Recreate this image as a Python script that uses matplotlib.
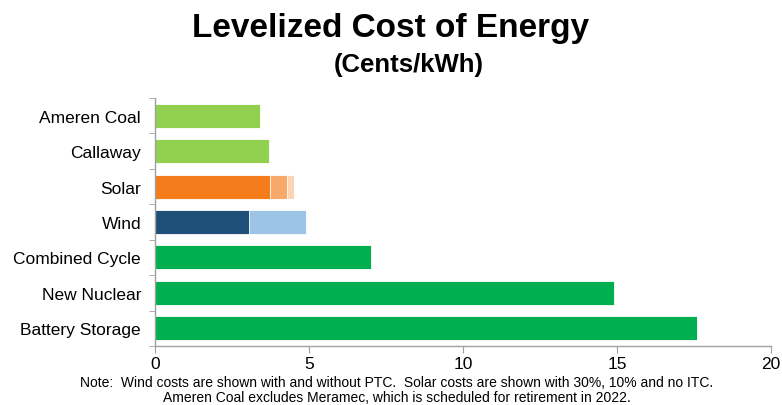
import matplotlib
matplotlib.use("Agg")
import matplotlib.pyplot as plt
import numpy as np

categories = ["Ameren Coal", "Callaway", "Solar", "Wind", "Combined Cycle", "New Nuclear", "Battery Storage"]
# base segment values (cents/kWh)
base = [3.4, 3.7, 3.73, 3.05, 7.0, 14.9, 17.6]
base_colors = ["#92D050", "#92D050", "#F47C1A", "#1F4E79", "#00B050", "#00B050", "#00B050"]
# Solar: with 30% ITC, 10% ITC, no ITC
solar_vals = [3.73, 4.30, 4.51]
solar_colors = ["#F47C1A", "#F8A96A", "#FCD5B5"]
# Wind: with PTC, without PTC
wind_vals = [3.05, 4.89]
wind_colors = ["#1F4E79", "#9DC3E6"]
xticks = [0, 5, 10, 15, 20]

plt.rcParams['font.family'] = ['Liberation Sans', 'DejaVu Sans']
fig = plt.figure(figsize=(7.82, 4.06), dpi=100)
ax = fig.add_axes([155/782, 1 - 347/406, 616/782, 248/406])

n = len(categories)
y = np.arange(n)
h = 0.68
for i, cat in enumerate(categories):
    if cat == "Solar":
        for v, c in reversed(list(zip(solar_vals, solar_colors))):
            ax.barh(i, v, height=h, color=c, edgecolor="white", linewidth=0.6)
    elif cat == "Wind":
        for v, c in reversed(list(zip(wind_vals, wind_colors))):
            ax.barh(i, v, height=h, color=c, edgecolor="white", linewidth=0.6)
    else:
        ax.barh(i, base[i], height=h, color=base_colors[i], edgecolor="white", linewidth=0.6)

ax.set_ylim(n - 0.5, -0.5)
ax.set_xlim(0, 20)
ax.set_xticks(xticks)
ax.set_xticklabels([str(t) for t in xticks], fontsize=12.5)
ax.set_yticks(y)
ax.set_yticklabels(categories, fontsize=12.5)
ax.set_yticks(np.arange(n + 1) - 0.5, minor=True)
ax.tick_params(axis='y', which='major', length=0, pad=10)
ax.tick_params(axis='y', which='minor', length=4, color='#A0A0A0', direction='out')
ax.tick_params(axis='x', length=5, color='#A0A0A0', direction='out', pad=2)
for s in ['top', 'right']:
    ax.spines[s].set_visible(False)
for s in ['left', 'bottom']:
    ax.spines[s].set_color('#A0A0A0')
    ax.spines[s].set_linewidth(1.0)

fig.text(391/782, 1 - 29/406, "Levelized Cost of Energy", ha='center', va='center',
         fontsize=24, fontweight='bold')
fig.text(409/782, 1 - 65/406, "(Cents/kWh)", ha='center', va='center',
         fontsize=18.5, fontweight='bold')
fig.text(397/782, 1 - 383/406,
         "Note:  Wind costs are shown with and without PTC.  Solar costs are shown with 30%, 10% and no ITC.",
         ha='center', va='center', fontsize=10)
fig.text(397/782, 1 - 398/406,
         "Ameren Coal excludes Meramec, which is scheduled for retirement in 2022.",
         ha='center', va='center', fontsize=10)

fig.savefig("out.png", dpi=100)
